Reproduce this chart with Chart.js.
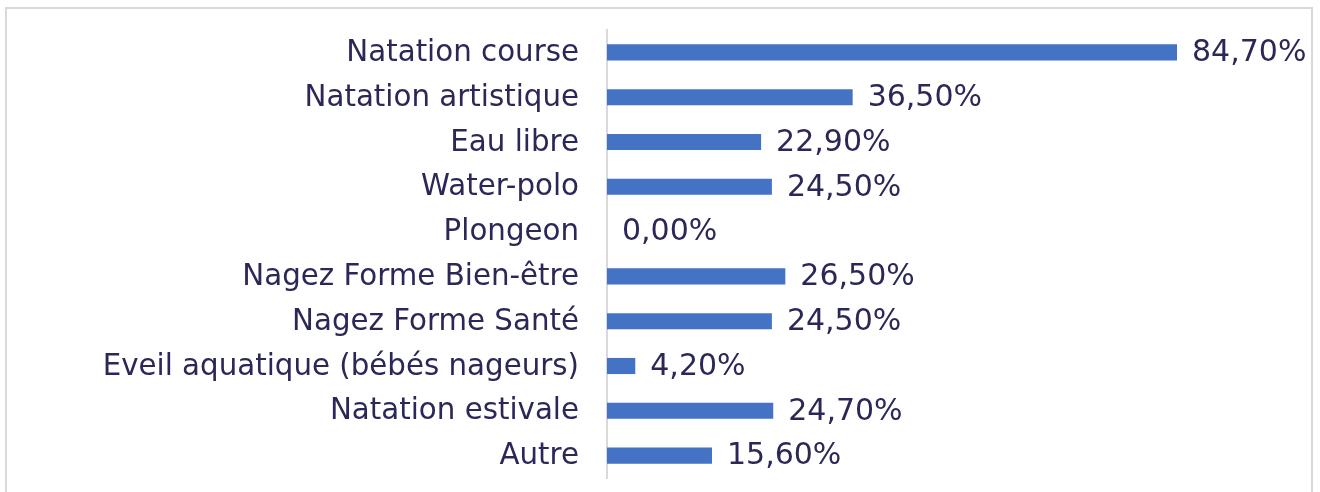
<!DOCTYPE html>
<html>
<head>
<meta charset="utf-8">
<script src="https://cdn.jsdelivr.net/npm/chart.js@4/dist/chart.umd.min.js"></script>
<style>
  html, body { margin: 0; padding: 0; background: #fff; }
  #wrap { position: relative; width: 1320px; height: 492px; overflow: hidden; }
  #frame { position: absolute; left: 5px; top: 7px; width: 1308px; height: 520px; border: 2px solid #d9d9d9; box-sizing: border-box; }
  canvas { position: absolute; left: 0; top: 0; }
</style>
</head>
<body>
<div id="wrap">
  <div id="frame"></div>
  <canvas id="chart" width="1320" height="492"></canvas>
</div>
<script>
const categories = [
  'Natation course',
  'Natation artistique',
  'Eau libre',
  'Water-polo',
  'Plongeon',
  'Nagez Forme Bien-être',
  'Nagez Forme Santé',
  'Eveil aquatique (bébés nageurs)',
  'Natation estivale',
  'Autre'
];
const values = [84.7, 36.5, 22.9, 24.5, 0, 26.5, 24.5, 4.2, 24.7, 15.6];

const textColor = '#2b2858';
const fontFamily = '"DejaVu Sans", Verdana, sans-serif';

const fmt = v => v.toFixed(2).replace('.', ',') + '%';

// value labels at the end of each bar
const barLabels = {
  id: 'barLabels',
  afterDatasetsDraw(chart) {
    const ctx = chart.ctx;
    const meta = chart.getDatasetMeta(0);
    ctx.save();
    ctx.font = '30px ' + fontFamily;
    ctx.fillStyle = textColor;
    ctx.textAlign = 'left';
    ctx.textBaseline = 'middle';
    meta.data.forEach((bar, i) => {
      ctx.fillText(fmt(values[i]), bar.x + 15, bar.y + 1);
    });
    ctx.restore();
  }
};

new Chart(document.getElementById('chart'), {
  type: 'bar',
  data: {
    labels: categories,
    datasets: [{
      data: values,
      backgroundColor: '#4472c4',
      barPercentage: 0.36,
      categoryPercentage: 1
    }]
  },
  options: {
    indexAxis: 'y',
    responsive: false,
    animation: false,
    layout: { padding: { top: 30, bottom: 14, left: 0, right: 40 } },
    plugins: {
      legend: { display: false },
      tooltip: { enabled: false }
    },
    scales: {
      x: { display: false, min: 0, max: 100 },
      y: {
        afterFit(scale) {
          scale.width = 607;
          scale.paddingTop = 0;
          scale.paddingBottom = 0;
        },
        grid: { display: false, drawTicks: false },
        border: { display: true, color: '#d9d9d9', width: 2 },
        ticks: {
          color: textColor,
          padding: 28,
          labelOffset: 1,
          font: { family: fontFamily, size: 29.3 }
        }
      }
    }
  },
  plugins: [barLabels]
});
</script>
</body>
</html>
